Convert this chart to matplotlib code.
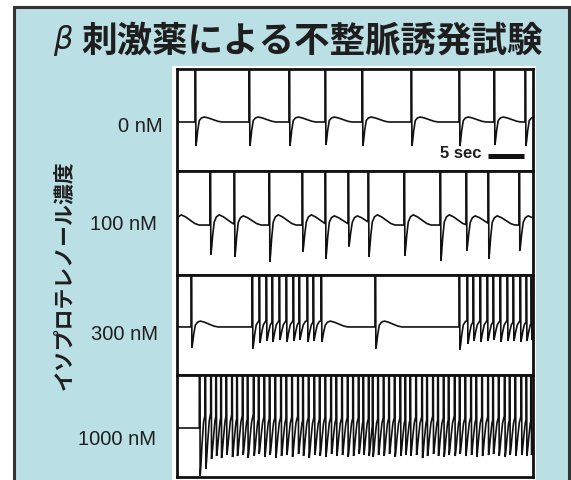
import numpy as np
import matplotlib.pyplot as plt
from matplotlib.patches import Rectangle

plt.rcParams['font.family'] = ['Liberation Sans', 'DejaVu Sans']

W, H = 571, 481
BLUE = '#badfe4'
INK = '#1e1e1e'

title_beta = "β"
title = "刺激薬による不整脈誘発試験"
ylabel = "イソプロテレノール濃度"
doses = ["0 nM", "100 nM", "300 nM", "1000 nM"]

# beat onsets (s), trough depth and after-bump height for each trace
times_0 = [2.53, 10.11, 15.73, 20.79, 25.98, 32.87, 39.61, 44.52, 48.88]
depths_0 = [24, 24, 24, 23, 24, 24, 24, 23, 24]
bumps_0 = [5, 5, 5, 5, 5, 5, 5, 5, 5]

times_100 = [-0.7, 4.63, 8.01, 12.92, 17.56, 20.79, 24.02, 26.83, 31.88,
             36.94, 40.59, 43.68, 48.03]
depths_100 = [30, 29, 31, 36, 26, 33, 21, 31, 30, 35, 25, 33, 25]
bumps_100 = [10, 10, 9, 10, 10, 9, 9, 10, 10, 10, 9, 9, 9]

times_300 = [1.97, 10.53, 11.52, 12.50, 13.34, 14.33, 15.31, 16.29, 17.13,
             18.26, 19.10, 20.22, 27.81, 39.61, 40.73, 41.57, 42.55, 43.54,
             44.38, 45.36, 46.35, 47.19, 48.17, 49.02, 49.72]
depths_300 = [21, 22, 16, 14, 15, 13, 15, 14, 13, 15, 14, 15, 22, 23, 17,
              14, 15, 14, 13, 15, 14, 14, 15, 14, 13]
bumps_300 = [6, 7, 7, 7, 7, 7, 7, 7, 7, 7, 7, 6, 6, 7, 7, 7, 7, 7, 7, 7,
             7, 7, 7, 7, 7]

times_1000 = [3.13, 3.93, 4.73, 5.44, 6.14, 6.88, 7.68, 8.38, 9.17, 9.87,
              10.72, 11.42, 12.22, 12.96, 13.76, 14.56, 15.31, 16.11, 16.95, 17.65,
              18.44, 19.24, 19.99, 20.79, 21.59, 22.33, 23.13, 23.92, 24.68, 25.46,
              26.12, 26.87, 27.43, 28.19, 28.97, 29.73, 30.52, 31.32, 32.02, 32.72,
              33.53, 34.37, 35.07, 35.91, 36.61, 37.40, 38.10, 38.95, 39.65, 40.45,
              41.25, 41.99, 42.80, 43.64, 44.34, 45.13, 45.97, 46.67, 47.47, 48.31,
              49.02, 49.68]
depths_1000 = [48, 41, 31, 28, 30, 27, 29, 28, 27, 30,
               28, 26, 29, 27, 30, 28, 27, 29, 26, 28,
               30, 27, 28, 29, 26, 28, 27, 29, 28, 26,
               27, 28, 29, 27, 28, 26, 29, 28, 27, 28,
               27, 30, 28, 26, 28, 29, 27, 28, 26, 28,
               27, 29, 28, 27, 26, 28, 29, 27, 28, 27,
               28, 27]
bumps_1000 = [20, 24, 24, 22, 22, 21, 20, 20, 19, 19,
              18, 18, 18, 17, 17, 17, 17, 17, 16, 17,
              17, 16, 17, 17, 17, 16, 17, 17, 17, 16,
              17, 17, 16, 17, 17, 17, 16, 17, 17, 17,
              16, 17, 17, 17, 16, 17, 17, 17, 16, 17,
              17, 17, 16, 17, 17, 17, 16, 17, 17, 17,
              16, 17]

# shape of one beat after the upstroke: time offset, share of trough, share of bump
BEAT_DT = [0.12, 0.22, 0.38, 0.60, 0.90, 1.30, 1.90, 2.60, 3.20, 3.80]
BEAT_DEPTH = [1.0, 0.8, 0.35, 0.0, 0.0, 0.0, 0.0, 0.0, 0.0, 0.0]
BEAT_BUMP = [0.0, 0.0, 0.0, 0.3, 0.8, 1.0, 0.8, 0.45, 0.15, 0.0]
SPIKE_TOP = 300


def build_trace(times, depths, bumps, t_end=51.0):
    t = [min(0.0, times[0]) - 1, times[0]]
    y = [0.0, 0.0]
    dt = np.array(BEAT_DT)
    for i, (t0, d, b) in enumerate(zip(times, depths, bumps)):
        nxt = times[i + 1] if i + 1 < len(times) else t_end
        shape = -d * np.array(BEAT_DEPTH) + b * np.array(BEAT_BUMP)
        t.append(t0 + 0.01)
        y.append(SPIKE_TOP)
        keep = t0 + dt < nxt
        t.extend(t0 + dt[keep])
        y.extend(shape[keep])
        t.append(nxt)
        y.append(np.interp(nxt - t0, dt, shape, right=0.0))
    return np.array(t), np.array(y)


fig = plt.figure(figsize=(W / 100, H / 100), dpi=100)
fig.patch.set_facecolor('white')

# blue frame and white plotting area behind the traces
fig.add_artist(Rectangle((14 / W, -0.1), (569 - 14) / W, 1.1 - 7.5 / H,
                         transform=fig.transFigure, facecolor=BLUE,
                         edgecolor='#333333', lw=2.2, zorder=-2))
fig.add_artist(Rectangle((172 / W, -0.1), (536 - 172) / W, 0.1 + 1 - 67 / H,
                         transform=fig.transFigure, facecolor='white',
                         edgecolor='none', zorder=-1))

panels = [(times_0, depths_0, bumps_0, 70, 172),
          (times_100, depths_100, bumps_100, 172, 276),
          (times_300, depths_300, bumps_300, 276, 376),
          (times_1000, depths_1000, bumps_1000, 376, 478)]

axes = []
for times, depths, bumps, top, bottom in panels:
    ax = fig.add_axes([177 / W, 1 - bottom / H, 356 / W, (bottom - top) / H])
    tt, yy = build_trace(times, depths, bumps)
    ax.plot(tt, yy, color='#111111', lw=1.2, solid_joinstyle='miter')
    ax.set_xlim(0, 50)
    ax.set_ylim(-49, 53)
    ax.set_xticks([])
    ax.set_yticks([])
    ax.set_facecolor('white')
    for sp in ax.spines.values():
        sp.set_linewidth(2.0)
        sp.set_color('#111111')
    axes.append(ax)

# 5 s scale bar
axes[0].plot([43.7, 48.7], [-34, -34], color='#111111', lw=3.6, solid_capstyle='butt')
axes[0].text(42.8, -35, "5 sec", ha='right', va='baseline', fontsize=12,
             weight='bold', color=INK)

fig.text(53 / W, 1 - 41 / H, title_beta, fontsize=22, style='italic',
         family='DejaVu Sans', ha='left', va='center', color=INK)
fig.text(81 / W, 1 - 52 / H, title, fontsize=25.6, weight='bold',
         family=['Noto Sans CJK JP', 'DejaVu Sans'], ha='left', va='baseline', color=INK)

fig.text(63 / W, 1 - 275 / H, ylabel, rotation=90, fontsize=15, weight='bold',
         family=['Noto Sans CJK JP', 'DejaVu Sans'], ha='center', va='center', color=INK)

label_x = [163, 157, 158, 156]
label_y = [132, 230, 340, 445]
for text, lx, ly in zip(doses, label_x, label_y):
    fig.text(lx / W, 1 - ly / H, text, fontsize=14.5, ha='right', va='baseline', color=INK)

fig.savefig("out.png", dpi=100)
